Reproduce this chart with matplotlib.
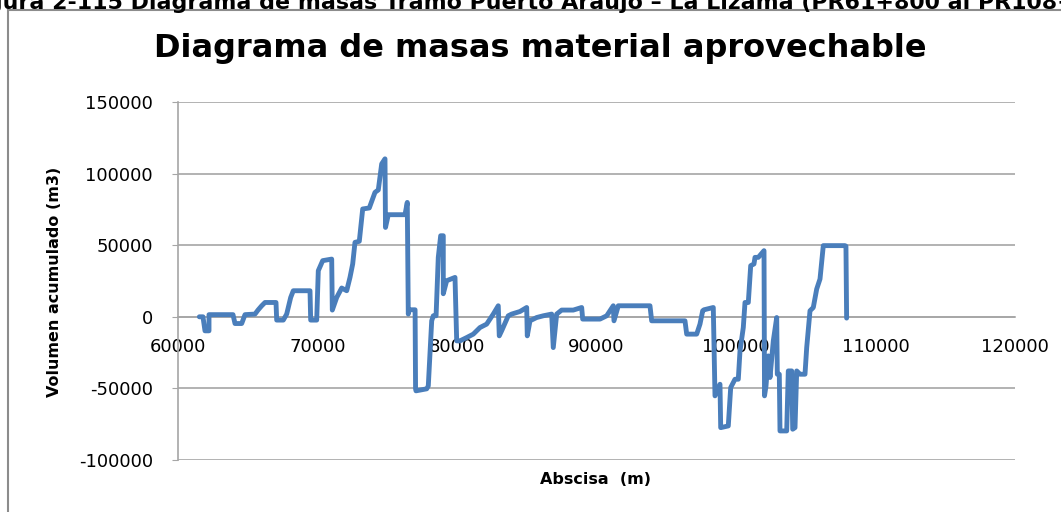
import matplotlib
matplotlib.use("Agg")
import matplotlib.pyplot as plt
from matplotlib.patches import Rectangle

# Abscisa (m) and accumulated volume (m3) of usable material
abscisa = [
    61530, 61790, 61935, 62222, 62222, 63942, 64086, 64566, 64803, 65519,
    65734, 66000, 66236, 67025, 67075, 67548, 67792, 68078, 68265, 69462,
    69512, 69942, 70057, 70372, 71018, 71061, 71376, 71734, 72093, 72329,
    72523, 72687, 72996, 73240, 73713, 74121, 74358, 74602, 74838, 74874,
    75075, 76271, 76436, 76508, 76565, 76995, 77030, 77060, 77827, 77942,
    78186, 78300, 78500, 78658, 78830, 79017, 79017, 79260, 79856, 79978,
    80214, 80695, 81168, 81647, 82127, 82600, 82958, 83030, 83200, 83674,
    83918, 84514, 84995, 85038, 85231, 85711, 86184, 86786, 86901, 87145,
    87503, 88335, 88937, 89009, 90249, 90730, 91203, 91253, 91561, 93833,
    93955, 96343, 96465, 97182, 97418, 97612, 97705, 98372, 98494, 98852,
    98903, 99447, 99620, 99928, 100165, 100287, 100523, 100645, 100882, 101054,
    101290, 101362, 101599, 102008, 102044, 102151, 102316, 102438, 102674, 102918,
    102961, 103104, 103154, 103634, 103749, 103993, 104065, 104230, 104352, 104588,
    104946, 105068, 105305, 105541, 105785, 106022, 106258, 107810, 107882, 107930,
]
volumen = [
    0, 0, -9800, -9800, 1500, 1500, -4700, -4700, 1500, 1900,
    4700, 7700, 10000, 10000, -2300, -2300, 1900, 13500, 18200, 18200,
    -2300, -2300, 32200, 39200, 40300, 4700, 13500, 20100, 18200, 27500,
    36900, 52000, 52700, 75300, 76000, 86900, 88600, 106800, 110300, 62400,
    71300, 71300, 79900, 1900, 4900, 4900, -50300, -51700, -50300, -48300,
    -2800, 700, 700, 41500, 56600, 56600, 16100, 25200, 27500, -16800,
    -16800, -14500, -12100, -7500, -5100, 1900, 7700, -13300, -9800, 700,
    1900, 3700, 6500, -13300, -2800, -500, 700, 1900, -21500, 1900,
    4700, 4700, 6500, -1600, -1600, 700, 7700, -2800, 7700, 7700,
    -2800, -2800, -12100, -12100, -5100, 4200, 4900, 6500, -55200, -47100,
    -77400, -76200, -49400, -43600, -43600, -23800, -7500, 10000, 10000, 35700,
    36900, 41500, 41500, 46200, -55200, -48300, -27300, -42400, -16800, -500,
    -40100, -40100, -79700, -79700, -37800, -37800, -78500, -77400, -37800, -40100,
    -40100, -21500, 4200, 6500, 19400, 26400, 49700, 49700, 49300, -900,
]

x_ticks = [60000, 70000, 80000, 90000, 100000, 110000, 120000]
y_ticks = [-100000, -50000, 0, 50000, 100000, 150000]

W, H = 1061, 512
fig = plt.figure(figsize=(W / 100, H / 100), dpi=100)

# outer chart frame
fig.patches.append(Rectangle((8 / W, -0.05), 1.1, (H - 10) / H + 0.05,
                             transform=fig.transFigure, fill=False,
                             edgecolor="#8c8c8c", linewidth=1.5))

# figure caption running off the top edge
fig.text(-36 / W, 1 - 9 / H,
         "Figura 2-115 Diagrama de masas Tramo Puerto Araujo \u2013 La Lizama (PR61+800 al PR108+000)",
         family="DejaVu Sans", weight="bold", fontsize=15.9,
         ha="left", va="baseline", color="black")

ax = fig.add_axes([178 / W, (H - 460) / H, (1015 - 178) / W, (460 - 102) / H])
ax.plot(abscisa, volumen, color="#4a7ebb", linewidth=3.5,
        solid_joinstyle="round", solid_capstyle="round", zorder=3)

ax.set_xlim(60000, 120000)
ax.set_ylim(-100000, 150000)
ax.set_xticks(x_ticks)
ax.set_yticks(y_ticks)
ax.set_xticklabels([str(v) for v in x_ticks])
ax.set_yticklabels([str(v) for v in y_ticks])

for v in y_ticks:
    ax.axhline(v, color="#a6a6a6", linewidth=1.2, zorder=1)

for side in ("top", "right"):
    ax.spines[side].set_visible(False)
ax.spines["left"].set_color("#a6a6a6")
ax.spines["left"].set_linewidth(1.2)
ax.spines["bottom"].set_position(("data", 0))
ax.spines["bottom"].set_color("#a6a6a6")
ax.spines["bottom"].set_linewidth(1.2)

ax.tick_params(axis="x", length=0, pad=15, labelsize=13)
ax.tick_params(axis="y", length=4, color="#a6a6a6", pad=14, labelsize=13)
for lab in ax.get_xticklabels() + ax.get_yticklabels():
    lab.set_family("DejaVu Sans")

fig.text(540 / W, 1 - 48 / H, "Diagrama de masas material aprovechable",
         family="DejaVu Sans", weight="bold", fontsize=23,
         ha="center", va="center")
fig.text(55 / W, 1 - 282 / H, "Volumen acumulado (m3)",
         family="DejaVu Sans", weight="bold", fontsize=11.5,
         rotation=90, ha="center", va="center")
fig.text(595 / W, 1 - 480 / H, "Abscisa  (m)",
         family="DejaVu Sans", weight="bold", fontsize=11.5,
         ha="center", va="center")

fig.savefig("out.png", dpi=100)
